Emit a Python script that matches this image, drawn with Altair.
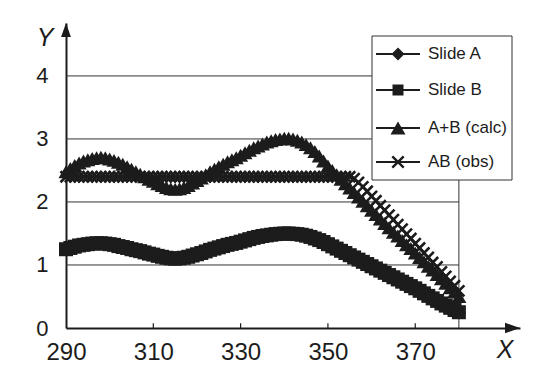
import altair as alt
import pandas as pd

# ---------------- data ----------------
x_vals = list(range(290, 381))

slide_a = [
    1.25, 1.27, 1.29, 1.31, 1.32, 1.33, 1.34, 1.345, 1.345, 1.34,
    1.33, 1.32, 1.30, 1.285, 1.27, 1.25, 1.235, 1.22, 1.20, 1.18,
    1.165, 1.145, 1.13, 1.115, 1.105, 1.10, 1.105, 1.115, 1.13, 1.15,
    1.17, 1.19, 1.215, 1.24, 1.26, 1.28, 1.30, 1.32, 1.335, 1.35,
    1.37, 1.39, 1.41, 1.43, 1.445, 1.46, 1.47, 1.48, 1.49, 1.495,
    1.50, 1.50, 1.495, 1.49, 1.48, 1.465, 1.445, 1.42, 1.395, 1.365,
    1.33, 1.295, 1.26, 1.225, 1.19, 1.155, 1.12, 1.085, 1.05, 1.015,
    0.98, 0.945, 0.91, 0.875, 0.84, 0.805, 0.77, 0.735, 0.70, 0.665,
    0.63, 0.59, 0.55, 0.51, 0.47, 0.43, 0.39, 0.355, 0.32, 0.285,
    0.25,
]

slide_b = [
    1.25, 1.27, 1.29, 1.31, 1.32, 1.33, 1.34, 1.345, 1.345, 1.34,
    1.33, 1.32, 1.30, 1.285, 1.27, 1.25, 1.235, 1.22, 1.20, 1.18,
    1.165, 1.145, 1.13, 1.115, 1.105, 1.10, 1.105, 1.115, 1.13, 1.15,
    1.17, 1.19, 1.215, 1.24, 1.26, 1.28, 1.30, 1.32, 1.335, 1.35,
    1.37, 1.39, 1.41, 1.43, 1.445, 1.46, 1.47, 1.48, 1.49, 1.495,
    1.50, 1.50, 1.495, 1.49, 1.48, 1.465, 1.445, 1.42, 1.395, 1.365,
    1.33, 1.295, 1.26, 1.225, 1.19, 1.155, 1.12, 1.085, 1.05, 1.015,
    0.98, 0.945, 0.91, 0.875, 0.84, 0.805, 0.77, 0.735, 0.70, 0.665,
    0.63, 0.59, 0.55, 0.51, 0.47, 0.43, 0.39, 0.355, 0.32, 0.285,
    0.25,
]

ab_calc = [
    2.48, 2.53, 2.58, 2.62, 2.65, 2.67, 2.69, 2.70, 2.71, 2.70,
    2.68, 2.66, 2.63, 2.60, 2.56, 2.52, 2.48, 2.44, 2.40, 2.36,
    2.33, 2.29, 2.26, 2.23, 2.21, 2.20, 2.21, 2.23, 2.26, 2.30,
    2.34, 2.38, 2.43, 2.48, 2.52, 2.56, 2.60, 2.64, 2.67, 2.70,
    2.74, 2.78, 2.82, 2.86, 2.89, 2.92, 2.95, 2.97, 2.99, 3.00,
    3.01, 3.01, 3.00, 2.98, 2.95, 2.91, 2.86, 2.80, 2.73, 2.65,
    2.57, 2.50, 2.43, 2.36, 2.29, 2.22, 2.15, 2.08, 2.01, 1.94,
    1.87, 1.80, 1.73, 1.66, 1.59, 1.52, 1.46, 1.39, 1.32, 1.26,
    1.19, 1.12, 1.05, 0.98, 0.92, 0.85, 0.78, 0.71, 0.64, 0.57,
    0.50,
]

ab_obs = [
    2.40, 2.40, 2.40, 2.40, 2.40, 2.40, 2.40, 2.40, 2.40, 2.40,
    2.40, 2.40, 2.40, 2.40, 2.40, 2.40, 2.40, 2.40, 2.40, 2.40,
    2.40, 2.40, 2.40, 2.40, 2.40, 2.40, 2.40, 2.40, 2.40, 2.40,
    2.40, 2.40, 2.40, 2.40, 2.40, 2.40, 2.40, 2.40, 2.40, 2.40,
    2.40, 2.40, 2.40, 2.40, 2.40, 2.40, 2.40, 2.40, 2.40, 2.40,
    2.40, 2.40, 2.40, 2.40, 2.40, 2.40, 2.40, 2.40, 2.40, 2.40,
    2.40, 2.40, 2.40, 2.40, 2.40, 2.40, 2.37, 2.31, 2.24, 2.17,
    2.09, 2.02, 1.94, 1.87, 1.79, 1.72, 1.64, 1.57, 1.49, 1.42,
    1.34, 1.27, 1.19, 1.12, 1.04, 0.97, 0.89, 0.82, 0.74, 0.67,
    0.59,
]

series_names = ["Slide A", "Slide B", "A+B (calc)", "AB (obs)"]
series_values = [slide_a, slide_b, ab_calc, ab_obs]
x_ticks = [290, 310, 330, 350, 370]
y_ticks = [0, 1, 2, 3, 4]
grid_values = [1, 2, 3, 4]

# ---------------- styling ----------------
INK = "#1c1c1c"
GRID = "#333333"
FONT = "Liberation Sans"
X_PATH = "M-1,-1L1,1M1,-1L-1,1"
ARROW_UP = "M0,0L-0.7,2L0.7,2Z"
ARROW_RIGHT = "M0,0L-2,-0.7L-2,0.7Z"
W, H = 454, 305
X_END, Y_END = 394, 4.84

xscale = alt.Scale(domain=[290, X_END], nice=False, zero=False)
yscale = alt.Scale(domain=[0, Y_END], nice=False, zero=False)
xaxis = alt.Axis(values=x_ticks, title=None, ticks=False, grid=False,
                 domainColor=INK, domainWidth=2, labelFont=FONT,
                 labelFontSize=24, labelColor=INK, labelPadding=12,
                 labelFlush=False, labelOverlap=False)
yaxis = alt.Axis(values=y_ticks, title=None, ticks=False, grid=False,
                 domainColor=INK, domainWidth=2, labelFont=FONT,
                 labelFontSize=22, labelColor=INK, labelPadding=18,
                 labelFlush=False, labelOverlap=False)


def X(field=None, datum=None):
    if datum is not None:
        return alt.X(datum=datum, type="quantitative", scale=xscale, axis=xaxis)
    return alt.X(field, type="quantitative", scale=xscale, axis=xaxis)


def Y(field=None, datum=None):
    if datum is not None:
        return alt.Y(datum=datum, type="quantitative", scale=yscale, axis=yaxis)
    return alt.Y(field, type="quantitative", scale=yscale, axis=yaxis)


layers = []

# gridlines (only across 290..380)
grid_df = pd.DataFrame({"y": grid_values})
layers.append(alt.Chart(grid_df).mark_rule(color=GRID, strokeWidth=1).encode(
    y=Y("y"), x=X(datum=290), x2=alt.X2(datum=380)))
# right border at 380
layers.append(alt.Chart(pd.DataFrame({"v": [0]})).mark_rule(color=GRID, strokeWidth=1).encode(
    x=X(datum=380), y=Y(datum=0), y2=alt.Y2(datum=4.6)))
# inward ticks on x axis
tick_df = pd.DataFrame({"x": x_ticks[1:]})
layers.append(alt.Chart(tick_df).mark_rule(color=INK, strokeWidth=1.2).encode(
    x=X("x"), y=Y(datum=0), y2=alt.Y2(datum=0.075)))

# series
marker_specs = {
    "Slide A": dict(shape="diamond", filled=True, size=190),
    "Slide B": dict(shape="square", filled=True, size=196),
    "A+B (calc)": dict(shape="triangle-up", filled=True, size=225),
    "AB (obs)": dict(shape=X_PATH, filled=False, size=121, strokeWidth=2.6),
}
for name, vals in zip(series_names, series_values):
    d = pd.DataFrame({"x": x_vals, "y": vals, "series": name})
    base = alt.Chart(d)
    layers.append(base.mark_line(color=INK, strokeWidth=2.2).encode(x=X("x"), y=Y("y")))
    layers.append(base.mark_point(color=INK, opacity=1, **marker_specs[name]).encode(
        x=X("x"), y=Y("y")))

# axis arrows
layers.append(alt.Chart(pd.DataFrame({"v": [0]})).mark_point(
    shape=ARROW_UP, filled=True, size=196, color=INK, opacity=1).encode(
    x=X(datum=290), y=Y(datum=Y_END)))
layers.append(alt.Chart(pd.DataFrame({"v": [0]})).mark_point(
    shape=ARROW_RIGHT, filled=True, size=225, color=INK, opacity=1).encode(
    x=X(datum=X_END), y=Y(datum=0)))

# axis letters
layers.append(alt.Chart(pd.DataFrame({"t": ["Y"]})).mark_text(
    font=FONT, fontSize=25, fontStyle="italic", color=INK, align="center", baseline="middle").encode(
    text="t:N", x=alt.value(-21), y=alt.value(15)))
layers.append(alt.Chart(pd.DataFrame({"t": ["X"]})).mark_text(
    font=FONT, fontSize=25, fontStyle="italic", color=INK, align="center", baseline="middle").encode(
    text="t:N", x=alt.value(439), y=alt.value(327)))

# legend (drawn by hand)
LX0, LX1, LY0, LY1 = 306, 446, 13, 157
layers.append(alt.Chart(pd.DataFrame({"v": [0]})).mark_rect(
    fill="white", stroke=GRID, strokeWidth=1).encode(
    x=alt.value(LX0), x2=alt.value(LX1), y=alt.value(LY0), y2=alt.value(LY1)))
legend_marker = {
    "Slide A": dict(shape="diamond", filled=True, size=169),
    "Slide B": dict(shape="square", filled=True, size=121),
    "A+B (calc)": dict(shape="triangle-up", filled=True, size=225),
    "AB (obs)": dict(shape=X_PATH, filled=False, size=130, strokeWidth=2.4),
}
entry_y = [31, 67, 105, 139]
for name, yy in zip(series_names, entry_y):
    ld = alt.Chart(pd.DataFrame({"series": [name]}))
    layers.append(ld.mark_rule(color=INK, strokeWidth=2).encode(
        x=alt.value(310), x2=alt.value(354), y=alt.value(yy)))
    layers.append(ld.mark_point(color=INK, opacity=1, **legend_marker[name]).encode(
        x=alt.value(332), y=alt.value(yy)))
    layers.append(ld.mark_text(font=FONT, fontSize=17, color=INK, align="left",
                               baseline="middle").encode(
        text="series:N", x=alt.value(362), y=alt.value(yy)))

chart = alt.layer(*layers).properties(
    width=W, height=H,
    autosize=alt.AutoSizeParams(type="none"),
    padding={"left": 58, "top": 15, "right": 10, "bottom": 40},
    background="white",
).configure_view(stroke=None)

chart.save("out.html", embed_options={"renderer": "svg", "actions": False})
